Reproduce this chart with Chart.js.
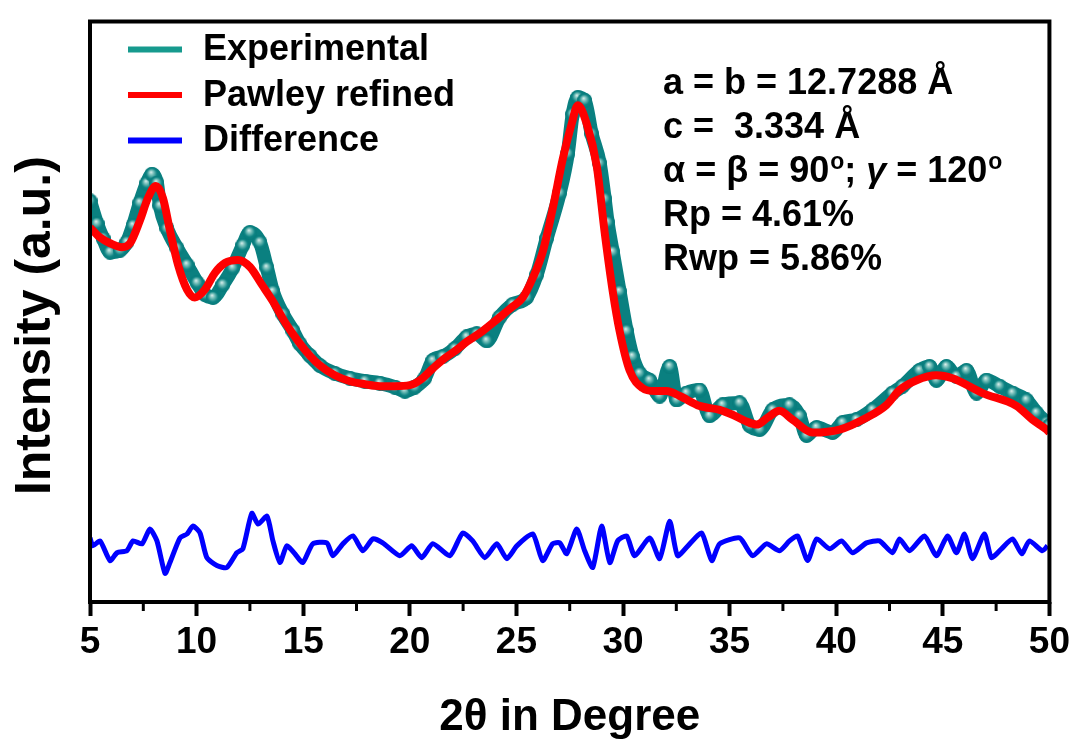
<!DOCTYPE html>
<html>
<head>
<meta charset="utf-8">
<script src="https://cdn.jsdelivr.net/npm/chart.js@4.4.0/dist/chart.umd.min.js"></script>
<style>
  body { margin: 0; background: #fff; }
  #wrap { width: 1075px; height: 740px; }
</style>
</head>
<body>
<div id="wrap"><canvas id="pxrdChart"></canvas></div>
<script>
// observed pattern (2theta in degrees, intensity in a.u.)
var expTheta = [5.00, 5.33, 5.61, 5.94, 6.41, 6.73, 7.02, 7.34, 7.67, 7.91, 8.14, 8.28, 8.61, 9.08, 9.55, 10.02,
  10.39, 10.77, 11.23, 11.70, 12.17, 12.50, 12.97, 13.30, 13.58, 14.05, 14.52, 14.84, 15.31, 15.78, 16.48, 17.19,
  17.89, 18.59, 19.30, 19.77, 20.23, 20.70, 21.08, 21.55, 22.11, 22.67, 23.14, 23.61, 24.22, 24.83, 25.48, 25.95,
  26.42, 27.03, 27.41, 27.64, 27.88, 28.20, 28.53, 28.91, 29.14, 29.28, 29.52, 29.84, 30.17, 30.45, 30.78, 31.25,
  31.72, 32.19, 32.52, 32.98, 33.59, 34.06, 34.67, 35.47, 35.94, 36.41, 37.02, 37.81, 38.28, 38.61, 39.08, 39.83,
  40.30, 40.95, 41.70, 42.64, 43.11, 43.91, 44.38, 44.70, 45.17, 45.64, 46.11, 46.58, 47.05, 47.66, 48.27, 48.92,
  49.39, 49.86, 50.00];
var expInt = [407, 384, 369, 355, 357, 365, 382, 405, 425, 434, 425, 402, 379, 359, 342, 324,
  312, 309, 322, 339, 362, 375, 365, 339, 315, 292, 275, 262, 250, 240, 232, 227,
  224, 222, 218, 214, 218, 227, 245, 249, 257, 269, 272, 265, 289, 302, 309, 332,
  369, 415, 455, 495, 512, 509, 475, 445, 409, 385, 355, 315, 275, 249, 232, 225,
  209, 239, 205, 212, 215, 189, 200, 202, 179, 175, 195, 200, 189, 169, 177, 172,
  182, 185, 195, 212, 219, 235, 239, 225, 239, 229, 235, 212, 225, 219, 212, 205,
  192, 182, 179];

// Pawley fit
var fitTheta = [5.00, 5.47, 5.94, 6.50, 6.88, 7.34, 7.72, 8.09, 8.42, 8.75, 9.13, 9.55, 9.92, 10.39, 10.86, 11.33,
  11.94, 12.50, 13.06, 13.58, 14.14, 14.75, 15.31, 15.78, 16.48, 17.19, 17.89, 18.59, 19.30, 20.00, 20.47, 21.08,
  21.50, 22.20, 22.67, 23.42, 24.22, 24.78, 25.30, 25.77, 26.23, 26.70, 27.17, 27.59, 27.88, 28.30, 28.77, 29.14,
  29.52, 29.84, 30.31, 30.92, 31.48, 32.05, 32.66, 33.59, 34.53, 35.14, 35.70, 36.27, 36.78, 37.34, 37.95, 38.89,
  40.16, 41.42, 42.36, 42.97, 43.77, 44.70, 45.45, 46.86, 48.45, 49.20, 49.86, 50.00];
var fitInt = [380, 370, 364, 360, 364, 387, 410, 422, 410, 377, 342, 317, 309, 317, 334, 344,
  347, 340, 322, 305, 284, 265, 250, 240, 230, 224, 221, 219, 219, 220, 225, 237,
  245, 256, 264, 275, 289, 299, 309, 329, 355, 399, 449, 485, 504, 485, 442, 375,
  315, 275, 235, 217, 214, 214, 209, 199, 195, 190, 184, 180, 187, 194, 185, 172,
  175, 187, 200, 215, 225, 230, 227, 212, 199, 185, 175, 172];

// observed - calculated, offset below the pattern
var diffTheta = [5.00, 5.14, 5.47, 5.94, 6.27, 6.73, 7.02, 7.44, 7.81, 8.14, 8.52, 8.75, 9.22, 9.55, 9.83, 10.16,
  10.48, 10.95, 11.42, 11.89, 12.17, 12.59, 12.88, 13.30, 13.58, 13.91, 14.23, 14.61, 14.98, 15.45, 16.11, 16.39,
  16.86, 17.33, 17.80, 18.27, 18.73, 19.53, 20.09, 20.56, 21.08, 21.88, 22.48, 22.95, 23.52, 24.08, 24.55, 25.02,
  25.77, 26.23, 26.70, 27.03, 27.36, 27.83, 28.20, 28.58, 29.00, 29.38, 29.75, 30.17, 30.55, 31.25, 31.72, 32.19,
  32.56, 33.13, 33.69, 34.16, 34.53, 35.47, 36.08, 36.73, 37.34, 37.81, 38.19, 38.66, 39.08, 39.69, 40.25, 40.77,
  41.42, 42.03, 42.64, 42.97, 43.44, 44.14, 44.70, 45.22, 45.64, 46.02, 46.39, 46.95, 47.28, 47.75, 48.27, 48.70,
  49.06, 49.67, 49.91];
var diffInt = [65, 57, 62, 42, 50, 52, 62, 59, 74, 62, 29, 40, 65, 69, 77, 70,
  45, 37, 35, 50, 54, 90, 79, 87, 62, 40, 57, 49, 40, 59, 60, 47,
  59, 67, 52, 64, 60, 47, 57, 45, 59, 47, 70, 62, 45, 59, 44, 57,
  69, 42, 59, 60, 49, 74, 52, 35, 77, 40, 62, 67, 47, 65, 44, 82,
  47, 59, 70, 42, 59, 65, 47, 59, 52, 62, 67, 42, 64, 54, 62, 50,
  60, 62, 50, 64, 52, 67, 47, 67, 50, 69, 44, 69, 45, 54, 64, 49,
  62, 52, 57];

var xTicks = [5, 10, 15, 20, 25, 30, 35, 40, 45, 50];
var xMinorTicks = [7.5, 12.5, 17.5, 22.5, 27.5, 32.5, 37.5, 42.5, 47.5];
var seriesNames = ['Experimental', 'Pawley refined', 'Difference'];
var seriesColors = ['#169a8e', '#ff0000', '#0000ff'];

// refinement results, split in runs so the degree marks can be raised
var cellLines = [
  [['a = b = 12.7288 Å']],
  [['c =  3.334 Å']],
  [['α = β = 90'], ['o', 'sup'], ['; '], ['γ', 'it'], [' = 120'], ['o', 'sup']],
  [['Rp = 4.61%']],
  [['Rwp = 5.86%']]
];

var FONT = '"Liberation Sans", Arial, Helvetica, sans-serif';

function pairs(xs, ys) {
  return xs.map(function (x, i) { return { x: x, y: ys[i] }; });
}

// shaded bead used for the observed points
function makeBead(r) {
  var c = document.createElement('canvas');
  c.width = c.height = r * 2;
  var g = c.getContext('2d');
  var grad = g.createRadialGradient(r * 0.85, r * 0.7, 0, r, r, r);
  grad.addColorStop(0, '#e2f2f0');
  grad.addColorStop(0.3, '#7cc2bd');
  grad.addColorStop(0.7, '#0c8383');
  grad.addColorStop(1, '#087a7a');
  g.fillStyle = grad;
  g.beginPath();
  g.arc(r, r, r, 0, Math.PI * 2);
  g.fill();
  return c;
}

var decorPlugin = {
  id: 'decor',
  afterDraw: function (chart) {
    var ctx = chart.ctx;
    var a = chart.chartArea;
    var xs = chart.scales.x;
    ctx.save();

    // frame
    ctx.strokeStyle = '#000';
    ctx.lineWidth = 4;
    ctx.strokeRect(a.left, a.top, a.right - a.left, a.bottom - a.top);

    // minor ticks
    ctx.lineWidth = 3;
    xMinorTicks.forEach(function (v) {
      var px = xs.getPixelForValue(v);
      ctx.beginPath();
      ctx.moveTo(px, a.bottom);
      ctx.lineTo(px, a.bottom + 9);
      ctx.stroke();
    });

    // legend
    ctx.font = 'bold 36px ' + FONT;
    ctx.textBaseline = 'middle';
    ctx.textAlign = 'left';
    seriesNames.forEach(function (name, i) {
      var y = a.top + 28 + i * 45.5;
      ctx.fillStyle = seriesColors[i];
      ctx.fillRect(a.left + 38, y - 3, 54, 6);
      ctx.fillStyle = '#000';
      ctx.fillText(name, a.left + 113, y + 1);
    });

    // cell parameters
    cellLines.forEach(function (line, i) {
      var x = a.left + 573;
      var y = a.top + 63 + i * 44;
      line.forEach(function (run) {
        var kind = run[1];
        if (kind === 'sup') {
          ctx.font = 'bold 23px ' + FONT;
          ctx.fillText(run[0], x + 1, y - 10);
          x += ctx.measureText(run[0]).width + 1;
        } else {
          ctx.font = (kind === 'it' ? 'italic ' : '') + 'bold 36px ' + FONT;
          ctx.fillText(run[0], x, y);
          x += ctx.measureText(run[0]).width;
        }
      });
    });
    ctx.restore();
  }
};

var beadImg = makeBead(7.5);

var pxrdChart = new Chart(document.getElementById('pxrdChart').getContext('2d'), {
  type: 'line',
  data: {
    datasets: [
      {
        label: seriesNames[0],
        data: pairs(expTheta, expInt),
        borderColor: '#0a8080',
        borderWidth: 14,
        pointStyle: beadImg,
        pointRadius: 7.5,
        tension: 0.3,
        cubicInterpolationMode: 'monotone',
        clip: 0,
        order: 3
      },
      {
        label: seriesNames[1],
        data: pairs(fitTheta, fitInt),
        borderColor: seriesColors[1],
        borderWidth: 8,
        pointRadius: 0,
        cubicInterpolationMode: 'monotone',
        clip: 0,
        order: 1
      },
      {
        label: seriesNames[2],
        data: pairs(diffTheta, diffInt),
        borderColor: seriesColors[2],
        borderWidth: 5,
        pointRadius: 0,
        tension: 0.2,
        clip: 0,
        order: 2
      }
    ]
  },
  options: {
    responsive: true,
    maintainAspectRatio: false,
    animation: false,
    events: [],
    layout: { padding: { top: 13, right: 25, left: 0, bottom: 0 } },
    plugins: {
      legend: { display: false },
      tooltip: { enabled: false }
    },
    scales: {
      x: {
        type: 'linear',
        min: 5,
        max: 50,
        afterFit: function (s) { s.height = 138; },
        afterBuildTicks: function (s) { s.ticks = xTicks.map(function (v) { return { value: v }; }); },
        border: { display: false },
        grid: {
          drawOnChartArea: false,
          tickLength: 14,
          tickWidth: 4,
          tickColor: '#000',
          color: '#000'
        },
        ticks: {
          color: '#000',
          font: { family: FONT, size: 37, weight: 'bold' },
          padding: 5,
          maxRotation: 0,
          autoSkip: false
        },
        title: {
          display: true,
          text: '2θ in Degree',
          color: '#000',
          font: { family: FONT, size: 44, weight: 'bold' },
          padding: { top: 0, bottom: -4 }
        }
      },
      y: {
        min: 0,
        max: 589,
        afterFit: function (s) { s.width = 90; },
        border: { display: false },
        grid: { display: false },
        ticks: { display: false },
        title: {
          display: true,
          text: 'Intensity (a.u.)  ',
          color: '#000',
          font: { family: FONT, size: 50, weight: 'bold' },
          padding: { top: 6, bottom: 0 }
        }
      }
    }
  },
  plugins: [decorPlugin]
});
</script>
</body>
</html>
